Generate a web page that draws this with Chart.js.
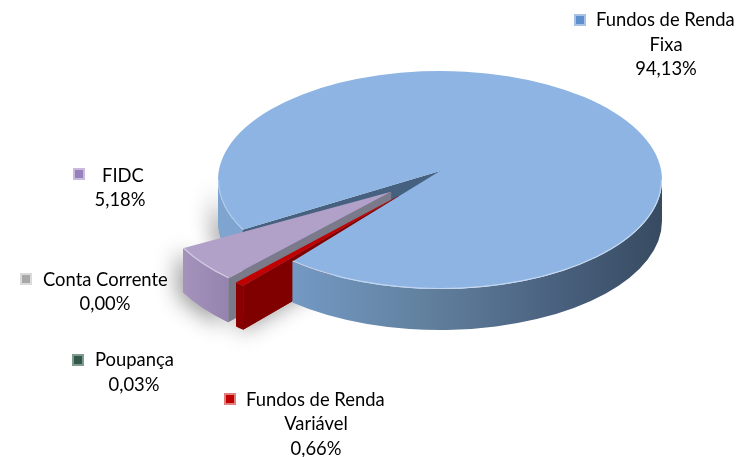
<!DOCTYPE html>
<html><head><meta charset="utf-8">
<style>html,body{margin:0;padding:0;background:#fff}canvas{position:absolute;left:0;top:0;filter:blur(0.35px)}</style>
<script src="https://cdn.jsdelivr.net/npm/chart.js@4/dist/chart.umd.min.js"></script>
</head><body><canvas id="c" width="741" height="457"></canvas>
<script>
const categories = ['Fundos de Renda Fixa','Fundos de Renda Variável','Poupança','Conta Corrente','FIDC'];
const values = [94.13, 0.66, 0.03, 0.00, 5.18];
const valueLabels = ['94,13%','0,66%','0,03%','0,00%','5,18%'];
const topColors = ['#8DB4E2','#C00000','#7A7A8A','#7A7A8A','#B1A0C7'];
const wallColors = ['#6E93BE','#800000','#77778A','#7A7A8A','#9E8DB6'];
const markerColors = ['#5F90CE','#C00000','#33594A','#A8A8A8','#9781B8'];
const markerEdges = ['#A9C3E4','#E08080','#7F9A8E','#DADADA','#C9BBDD'];
const offsets = [0, 55, 55, 55, 55];

const labelLayout = [
  {m:[574,14], lines:[['Fundos de Renda',596,20,'left'],['Fixa',666,45,'center'],[valueLabels[0],666,69,'center']]},
  {m:[224,393], lines:[['Fundos de Renda',246,400,'left'],['Variável',316,424,'center'],[valueLabels[1],316,449,'center']]},
  {m:[72,354], lines:[['Poupança',95,360,'left'],[valueLabels[2],134,385,'center']]},
  {m:[20,273], lines:[['Conta Corrente',43,280,'left'],[valueLabels[3],105,304,'center']]},
  {m:[73,168], lines:[['FIDC',102,176,'left'],[valueLabels[4],120,200,'center']]}
];

const view = {cx:440, cy:180, rx:222, ry:109, depth:41, explodedDepth:44, apexLift:9, explodedScale:1.054, explodedLift:2, explodedApexLift:4};

const pie3d = {
  id:'pie3d',
  beforeDatasetsDraw(chart){
    const ctx = chart.ctx;
    const arcs = chart.getDatasetMeta(0).data;
    const R = arcs[0].outerRadius, k = view.rx/R, q = view.ry/view.rx;
    const G = (el)=>{
      const mid=(el.startAngle+el.endAngle)/2, off=el.options.offset||0;
      const dx=Math.cos(mid)*off*k, dy=Math.sin(mid)*off*k*q;
      const exploded=off>0;
      const s=exploded?view.explodedScale:1;
      const ox=view.cx+dx, oy=view.cy+dy-(exploded?view.explodedLift:0);
      return {ox,oy,rx:view.rx*s,ry:view.ry*s,a:el.startAngle,b:el.endAngle,
        d:exploded?view.explodedDepth:view.depth,
        ax:ox, ay:oy-(exploded?view.explodedApexLift:view.apexLift)};
    };
    const wall=(g,a,b,fill)=>{
      ctx.beginPath();
      ctx.ellipse(g.ox,g.oy,g.rx,g.ry,0,a,b);
      ctx.ellipse(g.ox,g.oy+g.d,g.rx,g.ry,0,b,a,true);
      ctx.closePath(); ctx.fillStyle=fill; ctx.fill();
    };
    const radial=(g,ang,fill)=>{
      const x=g.ox+Math.cos(ang)*g.rx,y=g.oy+Math.sin(ang)*g.ry;
      ctx.beginPath();ctx.moveTo(g.ax,g.ay);ctx.lineTo(x,y);ctx.lineTo(x,y+g.d);
      ctx.lineTo(g.ax,g.ay+g.d);ctx.closePath();ctx.fillStyle=fill;ctx.fill();
    };
    const top=(g,fill)=>{
      ctx.beginPath();ctx.moveTo(g.ax,g.ay);ctx.ellipse(g.ox,g.oy,g.rx,g.ry,0,g.a,g.b);ctx.closePath();
      ctx.fillStyle=fill;ctx.fill();
    };
    const rim=(g,a,b,alpha)=>{
      ctx.beginPath();ctx.ellipse(g.ox,g.oy,g.rx-0.5,g.ry-0.5,0,a,b);
      ctx.strokeStyle='rgba(235,243,252,'+alpha+')';ctx.lineWidth=1.2;ctx.stroke();
    };
    const [main,red,poup,conta,fidc]=arcs.map(G);

    // soft ground shadow
    ctx.save();
    ctx.shadowColor='rgba(0,0,0,0.42)';ctx.shadowBlur=22;ctx.shadowOffsetX=-5;ctx.shadowOffsetY=3;
    wall(main,main.a,Math.PI,'#7FA4D0');
    wall(fidc,fidc.a,fidc.b,'#9E8DB6');
    radial(red,red.a,wallColors[1]);
    ctx.restore();

    // far part of the main slice
    wall(main,main.a,Math.PI,'#7FA4D0');
    radial(main,main.a,'#46607F');

    // exploded slices, back to front
    const pg=ctx.createLinearGradient(182,0,230,0);pg.addColorStop(0,'#A593BC');pg.addColorStop(1,'#9483AE');
    radial(fidc,fidc.a,wallColors[3]);
    wall(fidc,fidc.a,fidc.b,pg);
    top(fidc,topColors[4]);
    rim(fidc,fidc.a,fidc.b,0.5);
    radial(red,red.a,wallColors[1]);
    wall(red,red.a,red.b,'#8A0000');
    top(poup,topColors[2]);
    top(red,topColors[1]);

    // front of main slice and its top face
    const g2=ctx.createLinearGradient(293,0,663,0);
    g2.addColorStop(0,'#7399C4');g2.addColorStop(0.35,'#62819F');g2.addColorStop(0.7,'#4A6280');g2.addColorStop(1,'#374A60');
    wall(main,Math.PI*2,main.b,g2);
    top(main,topColors[0]);
    rim(main,Math.PI*2,main.b,0.55);
    rim(main,main.a,Math.PI,0.35);
    return false;
  },
  afterDraw(chart){
    const ctx=chart.ctx;
    ctx.save();
    ctx.font='18.4px Lato';ctx.textBaseline='middle';
    labelLayout.forEach((l,i)=>{
      const [mx,my]=l.m,s=12;
      ctx.fillStyle=markerEdges[i];ctx.fillRect(mx,my,s,s);
      ctx.fillStyle=markerColors[i];ctx.fillRect(mx+2,my+2,s-4,s-4);
      ctx.fillStyle='#000';
      l.lines.forEach(t=>{ctx.textAlign=t[3];ctx.fillText(t[0],t[1],t[2]);});
    });
    ctx.restore();
  }
};

new Chart(document.getElementById('c'),{
  type:'pie',
  data:{labels:categories,datasets:[{data:values,backgroundColor:topColors,borderWidth:0,offset:offsets}]},
  options:{responsive:false,animation:false,rotation:242.8,
    plugins:{legend:{display:false},tooltip:{enabled:false}},layout:{padding:0}},
  plugins:[pie3d]
});
</script></body></html>
